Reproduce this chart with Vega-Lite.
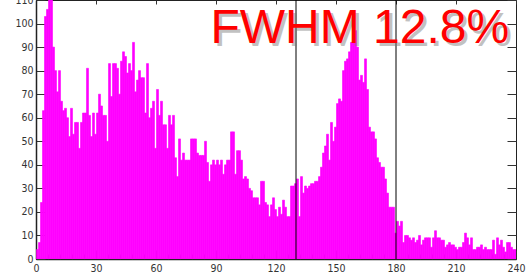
{
  "$schema": "https://vega.github.io/schema/vega-lite/v6.json",
  "width": 480,
  "height": 259,
  "autosize": {"type": "none"},
  "padding": {"left": 36, "top": 0, "right": 13, "bottom": 16},
  "background": "#ffffff",
  "config": {
    "view": {"stroke": "#222222", "strokeWidth": 1},
    "axis": {"grid": false, "title": null, "labelFont": "DejaVu Sans Condensed, DejaVu Sans", "labelFontSize": 10.5, "labelColor": "#333333", "tickColor": "#333333", "domainColor": "#222222"}
  },
  "resolve": {"axis": {"x": "independent", "y": "independent"}},
  "layer": [
    {
      "data": {"values": [
        {"ch":0,"n":4},{"ch":1,"n":7},{"ch":2,"n":24},{"ch":3,"n":63},{"ch":4,"n":103},{"ch":5,"n":106},{"ch":6,"n":116},{"ch":7,"n":113},{"ch":8,"n":90},{"ch":9,"n":80},
        {"ch":10,"n":71},{"ch":11,"n":80},{"ch":12,"n":67},{"ch":13,"n":63},{"ch":14,"n":64},{"ch":15,"n":60},{"ch":16,"n":52},{"ch":17,"n":64},{"ch":18,"n":53},{"ch":19,"n":58},
        {"ch":20,"n":58},{"ch":21,"n":47},{"ch":22,"n":58},{"ch":23,"n":62},{"ch":24,"n":62},{"ch":25,"n":81},{"ch":26,"n":61},{"ch":27,"n":52},{"ch":28,"n":62},{"ch":29,"n":53},
        {"ch":30,"n":62},{"ch":31,"n":70},{"ch":32,"n":65},{"ch":33,"n":61},{"ch":34,"n":61},{"ch":35,"n":50},{"ch":36,"n":83},{"ch":37,"n":69},{"ch":38,"n":83},{"ch":39,"n":83},
        {"ch":40,"n":81},{"ch":41,"n":70},{"ch":42,"n":84},{"ch":43,"n":88},{"ch":44,"n":86},{"ch":45,"n":79},{"ch":46,"n":83},{"ch":47,"n":80},{"ch":48,"n":92},{"ch":49,"n":71},
        {"ch":50,"n":76},{"ch":51,"n":80},{"ch":52,"n":77},{"ch":53,"n":77},{"ch":54,"n":62},{"ch":55,"n":83},{"ch":56,"n":60},{"ch":57,"n":64},{"ch":58,"n":67},{"ch":59,"n":47},
        {"ch":60,"n":72},{"ch":61,"n":61},{"ch":62,"n":67},{"ch":63,"n":57},{"ch":64,"n":57},{"ch":65,"n":47},{"ch":66,"n":61},{"ch":67,"n":57},{"ch":68,"n":61},{"ch":69,"n":43},
        {"ch":70,"n":35},{"ch":71,"n":51},{"ch":72,"n":42},{"ch":73,"n":45},{"ch":74,"n":42},{"ch":75,"n":42},{"ch":76,"n":42},{"ch":77,"n":51},{"ch":78,"n":51},{"ch":79,"n":51},
        {"ch":80,"n":45},{"ch":81,"n":44},{"ch":82,"n":44},{"ch":83,"n":44},{"ch":84,"n":50},{"ch":85,"n":41},{"ch":86,"n":33},{"ch":87,"n":40},{"ch":88,"n":42},{"ch":89,"n":40},
        {"ch":90,"n":42},{"ch":91,"n":40},{"ch":92,"n":42},{"ch":93,"n":36},{"ch":94,"n":40},{"ch":95,"n":42},{"ch":96,"n":42},{"ch":97,"n":54},{"ch":98,"n":54},{"ch":99,"n":36},
        {"ch":100,"n":46},{"ch":101,"n":46},{"ch":102,"n":42},{"ch":103,"n":34},{"ch":104,"n":35},{"ch":105,"n":34},{"ch":106,"n":30},{"ch":107,"n":29},{"ch":108,"n":26},{"ch":109,"n":26},
        {"ch":110,"n":26},{"ch":111,"n":23},{"ch":112,"n":33},{"ch":113,"n":33},{"ch":114,"n":24},{"ch":115,"n":23},{"ch":116,"n":18},{"ch":117,"n":23},{"ch":118,"n":26},{"ch":119,"n":21},
        {"ch":120,"n":18},{"ch":121,"n":22},{"ch":122,"n":19},{"ch":123,"n":25},{"ch":124,"n":22},{"ch":125,"n":18},{"ch":126,"n":18},{"ch":127,"n":31},{"ch":128,"n":31},{"ch":129,"n":32},
        {"ch":130,"n":34},{"ch":131,"n":18},{"ch":132,"n":35},{"ch":133,"n":28},{"ch":134,"n":31},{"ch":135,"n":30},{"ch":136,"n":31},{"ch":137,"n":32},{"ch":138,"n":32},{"ch":139,"n":33},
        {"ch":140,"n":33},{"ch":141,"n":35},{"ch":142,"n":39},{"ch":143,"n":45},{"ch":144,"n":48},{"ch":145,"n":53},{"ch":146,"n":42},{"ch":147,"n":58},{"ch":148,"n":50},{"ch":149,"n":56},
        {"ch":150,"n":66},{"ch":151,"n":68},{"ch":152,"n":67},{"ch":153,"n":80},{"ch":154,"n":84},{"ch":155,"n":85},{"ch":156,"n":88},{"ch":157,"n":92},{"ch":158,"n":96},{"ch":159,"n":97},
        {"ch":160,"n":90},{"ch":161,"n":76},{"ch":162,"n":78},{"ch":163,"n":75},{"ch":164,"n":85},{"ch":165,"n":72},{"ch":166,"n":56},{"ch":167,"n":54},{"ch":168,"n":54},{"ch":169,"n":51},
        {"ch":170,"n":43},{"ch":171,"n":41},{"ch":172,"n":39},{"ch":173,"n":39},{"ch":174,"n":34},{"ch":175,"n":28},{"ch":176,"n":22},{"ch":177,"n":22},{"ch":178,"n":22},{"ch":179,"n":11},
        {"ch":180,"n":16},{"ch":181,"n":14},{"ch":182,"n":16},{"ch":183,"n":7},{"ch":184,"n":10},{"ch":185,"n":10},{"ch":186,"n":9},{"ch":187,"n":8},{"ch":188,"n":9},{"ch":189,"n":7},
        {"ch":190,"n":8},{"ch":191,"n":10},{"ch":192,"n":6},{"ch":193,"n":8},{"ch":194,"n":9},{"ch":195,"n":9},{"ch":196,"n":9},{"ch":197,"n":5},{"ch":198,"n":9},{"ch":199,"n":12},
        {"ch":200,"n":9},{"ch":201,"n":9},{"ch":202,"n":8},{"ch":203,"n":8},{"ch":204,"n":5},{"ch":205,"n":6},{"ch":206,"n":7},{"ch":207,"n":6},{"ch":208,"n":6},{"ch":209,"n":5},
        {"ch":210,"n":4},{"ch":211,"n":5},{"ch":212,"n":5},{"ch":213,"n":7},{"ch":214,"n":11},{"ch":215,"n":9},{"ch":216,"n":6},{"ch":217,"n":9},{"ch":218,"n":4},{"ch":219,"n":4},
        {"ch":220,"n":5},{"ch":221,"n":5},{"ch":222,"n":6},{"ch":223,"n":4},{"ch":224,"n":5},{"ch":225,"n":4},{"ch":226,"n":4},{"ch":227,"n":4},{"ch":228,"n":8},{"ch":229,"n":2},
        {"ch":230,"n":9},{"ch":231,"n":6},{"ch":232,"n":8},{"ch":233,"n":5},{"ch":234,"n":3},{"ch":235,"n":7},{"ch":236,"n":7},{"ch":237,"n":5},{"ch":238,"n":4},{"ch":239,"n":4}
      ]},
      "mark": {"type": "bar", "color": "#ff00ff", "stroke": "#ff00ff", "strokeWidth": 0.6, "binSpacing": 0, "clip": true},
      "encoding": {
        "x": {"field": "ch", "type": "quantitative", "bin": {"step": 1, "extent": [0, 240]},
              "scale": {"domain": [0, 240], "nice": false, "zero": false},
              "axis": {"orient": "bottom", "values": [0, 30, 60, 90, 120, 150, 180, 210, 240], "tickSize": -9, "labelPadding": 13, "domainWidth": 1.5, "labelFlush": false, "format": "d"}},
        "y": {"field": "n", "aggregate": "sum", "type": "quantitative",
              "scale": {"domain": [0, 110], "nice": false},
              "axis": {"orient": "left", "values": [0, 10, 20, 30, 40, 50, 60, 70, 80, 90, 100, 110], "tickSize": -9, "labelPadding": 12, "domainWidth": 1.5}}
      }
    },
    {
      "data": {"values": [{"v": 130}, {"v": 180}]},
      "mark": {"type": "rule", "color": "#000000", "strokeWidth": 1},
      "encoding": {
        "x": {"field": "v", "type": "quantitative",
              "axis": {"orient": "top", "values": [0, 30, 60, 90, 120, 150, 180, 210, 240], "tickSize": -4, "labels": false, "domain": false}}
      }
    },
    {
      "data": {"values": [{"label": "FWHM 12.8%"}]},
      "mark": {"type": "text", "font": "Liberation Sans", "fontSize": 48, "align": "left", "baseline": "alphabetic", "color": "#777777", "opacity": 0.45, "dx": 3, "dy": 3},
      "encoding": {
        "text": {"field": "label"},
        "x": {"datum": 87.2, "type": "quantitative",
              "axis": {"orient": "bottom", "values": [6, 12, 18, 24, 36, 42, 48, 54, 66, 72, 78, 84, 96, 102, 108, 114, 126, 132, 138, 144, 156, 162, 168, 174, 186, 192, 198, 204, 216, 222, 228, 234], "tickSize": -5, "labels": false, "domain": false}},
        "y": {"datum": 91.7, "type": "quantitative",
              "axis": {"orient": "right", "values": [0, 10, 20, 30, 40, 50, 60, 70, 80, 90, 100, 110], "tickSize": -9, "labels": false, "domain": false}}
      }
    },
    {
      "data": {"values": [{"label": "FWHM 12.8%"}]},
      "mark": {"type": "text", "font": "Liberation Sans", "fontSize": 48, "align": "left", "baseline": "alphabetic", "color": "#ff0000"},
      "encoding": {
        "text": {"field": "label"},
        "x": {"datum": 87.2, "type": "quantitative", "axis": null},
        "y": {"datum": 91.7, "type": "quantitative", "axis": null}
      }
    }
  ]
}
